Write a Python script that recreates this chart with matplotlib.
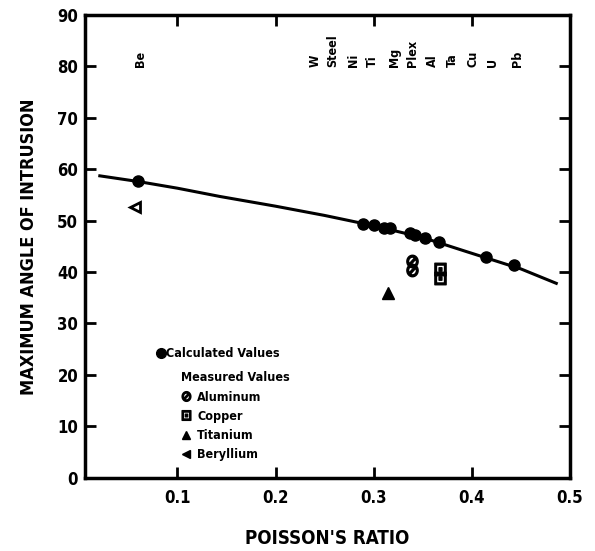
import matplotlib
matplotlib.use('Agg')
import matplotlib.pyplot as pyplot
from matplotlib.lines import Line2D
import numpy

# ----------------------------------------------------------DATA----------------------------------------------------------#
# Calculated values (filled circles on the curve)
calc_nu = [0.060, 0.289, 0.300, 0.310, 0.317, 0.337, 0.342, 0.352, 0.367, 0.414, 0.443]
calc_angle = [57.6, 49.3, 49.1, 48.5, 48.5, 47.6, 47.2, 46.6, 45.9, 43.0, 41.3]
# Smooth trend curve
curve_nu = [0.021, 0.06, 0.10, 0.143, 0.20, 0.225, 0.25, 0.30, 0.35, 0.394, 0.45, 0.486]
curve_angle = [58.7, 57.6, 56.3, 54.7, 52.8, 51.9, 51.0, 49.0, 46.7, 44.0, 40.6, 37.8]
# Measured values
al_nu = [0.339, 0.339]
al_angle = [42.2, 40.4]
cu_nu = [0.368, 0.368]
cu_angle = [40.5, 38.8]
ti_nu = [0.315]
ti_angle = [36.0]
be_nu = [0.057]
be_angle = [52.6]
# Material names along the top
mat_names = ['Be', 'W', 'Steel', 'Ni', 'Ti', 'Mg', 'Plex', 'Al', 'Ta', 'Cu', 'U', 'Pb']
mat_nu = [0.062, 0.240, 0.258, 0.279, 0.299, 0.321, 0.340, 0.360, 0.380, 0.401, 0.421, 0.446]

# ----------------------------------------------------------STYLE----------------------------------------------------------#
# Condensed bold look of the old typewriter lettering
pyplot.rcParams['font.family'] = ['DejaVu Sans']
pyplot.rcParams['font.stretch'] = 'condensed'
pyplot.rcParams['font.weight'] = 'bold'
pyplot.rcParams['axes.labelweight'] = 'bold'
pyplot.rcParams['mathtext.default'] = 'regular'

fig = pyplot.figure(figsize=(5.95, 5.51), dpi=100)
ax = fig.add_axes([0.143, 0.133, 0.815, 0.840])

# Curve and points
ax.plot(curve_nu, curve_angle, color='black', lw=2.2, zorder=2)
ax.plot(calc_nu, calc_angle, 'o', color='black', ms=8, zorder=3)
ax.plot(al_nu, al_angle, linestyle='none', marker=r'$\oslash$', color='black', ms=9)
ax.plot(cu_nu, cu_angle, linestyle='none', marker=r'$\boxdot$', color='black', ms=9)
ax.plot(ti_nu, ti_angle, '^', color='black', ms=8)
ax.plot(be_nu, be_angle, '<', color='black', ms=7, markerfacecolor='white', markeredgewidth=2)

# Material labels
for name, nu in zip(mat_names, mat_nu):
    ax.text(nu, 79.8, name, rotation=90, ha='center', va='bottom', fontsize=9, fontweight='bold')

# Axes setup
ax.set_xlim(0.006, 0.5)
ax.set_ylim(0, 90)
ax.set_xticks([0.1, 0.2, 0.3, 0.4, 0.5])
ax.set_xticklabels(['0.1', '0.2', '0.3', '0.4', '0.5'])
ax.set_yticks(numpy.arange(0, 91, 10))
ax.tick_params(direction='in', length=8, width=2, top=True, right=True,
               labelsize=12, pad=5)
ax.tick_params(axis='x', pad=8)
for s in ax.spines.values():
    s.set_linewidth(2.5)
ax.set_xlabel("POISSON'S RATIO", fontsize=13.5, labelpad=16)
ax.set_ylabel('MAXIMUM ANGLE OF INTRUSION', fontsize=13, labelpad=14)

# Legends
calc_handle = [Line2D([], [], marker='o', color='black', linestyle='none', ms=7)]
leg1 = ax.legend(calc_handle, ['Calculated Values'], loc='lower left',
                 bbox_to_anchor=(0.135, 0.24), frameon=False, fontsize=9,
                 handlelength=0.6, handletextpad=0.1, borderpad=0)
ax.add_artist(leg1)
meas_handles = [
    Line2D([], [], marker=r'$\oslash$', color='black', linestyle='none', ms=7),
    Line2D([], [], marker=r'$\boxdot$', color='black', linestyle='none', ms=7),
    Line2D([], [], marker='^', color='black', linestyle='none', ms=6),
    Line2D([], [], marker='<', color='black', linestyle='none', ms=6),
]
leg2 = ax.legend(meas_handles, ['Aluminum', 'Copper', 'Titanium', 'Beryllium'],
                 title='Measured Values', loc='lower left', bbox_to_anchor=(0.185, 0.022),
                 frameon=False, fontsize=9, title_fontsize=9, alignment='left',
                 handlelength=0.8, handletextpad=0.5, labelspacing=0.5, borderpad=0)
leg2.get_title().set_fontweight('bold')

fig.savefig('out.png', dpi=100)
